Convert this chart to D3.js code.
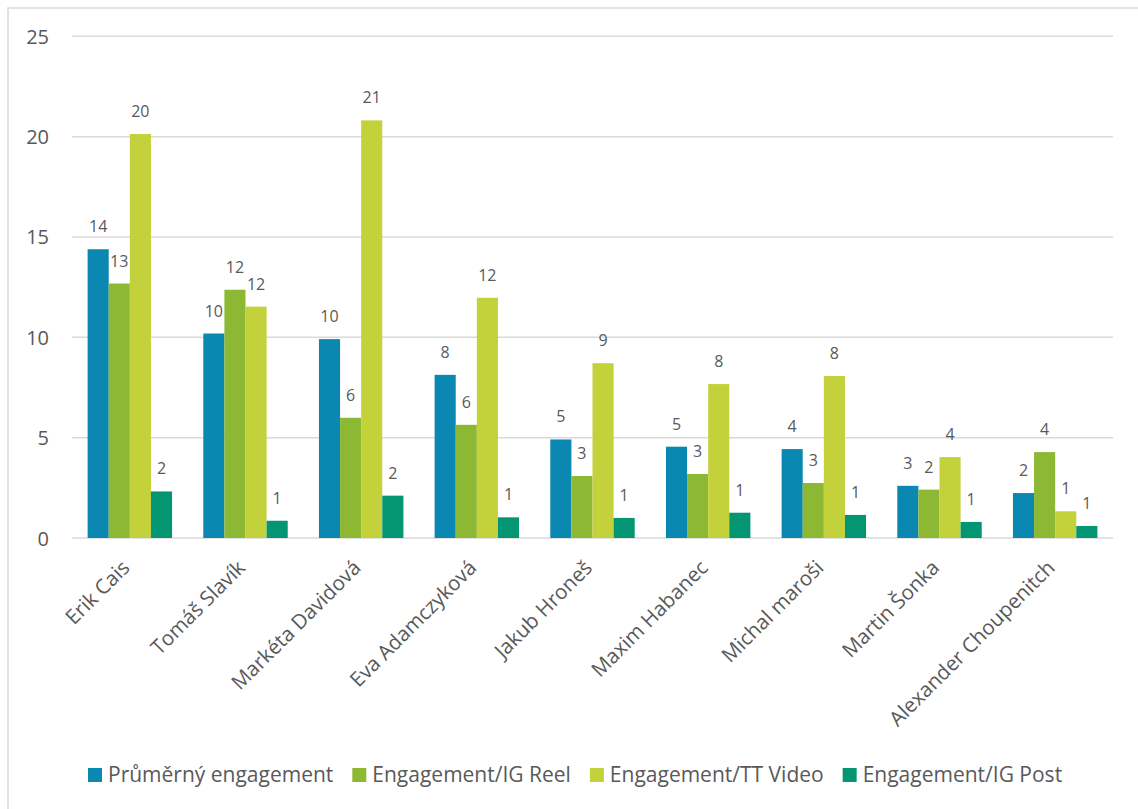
<!DOCTYPE html>
<html>
<head>
<meta charset="utf-8">
<script src="https://cdn.jsdelivr.net/npm/d3@7"></script>
<style>
  html, body { margin: 0; padding: 0; background: #fff; }
  svg { display: block; font-family: "Open Sans", sans-serif; }
</style>
</head>
<body>
<svg id="chart" width="1138" height="809"></svg>
<script>
// ---- data ----
const categories = ["Erik Cais", "Tomáš Slavík", "Markéta Davidová", "Eva Adamczyková", "Jakub Hroneš", "Maxim Habanec", "Michal maroši", "Martin Šonka", "Alexander Choupenitch"];
const seriesNames = ["Průměrný engagement", "Engagement/IG Reel", "Engagement/TT Video", "Engagement/IG Post"];
const prumernyEngagement = [14.39, 10.19, 9.91, 8.13, 4.91, 4.55, 4.43, 2.60, 2.24];
const igReel = [12.68, 12.37, 5.99, 5.64, 3.09, 3.19, 2.74, 2.41, 4.28];
const ttVideo = [20.13, 11.53, 20.81, 11.97, 8.71, 7.67, 8.07, 4.03, 1.33];
const igPost = [2.32, 0.86, 2.11, 1.03, 1.00, 1.26, 1.15, 0.80, 0.60];
const yTicks = [0, 5, 10, 15, 20, 25];

const seriesValues = [prumernyEngagement, igReel, ttVideo, igPost];
const colors = ["#0B88B2", "#8CB834", "#C3D13B", "#049673"];

const svg = d3.select("#chart");
const textColor = "#595959";

// border
svg.append("rect").attr("x", 8).attr("y", 8).attr("width", 1140).attr("height", 820)
  .attr("fill", "none").attr("stroke", "#d9d9d9").attr("stroke-width", 1.5);

const x0 = d3.scaleBand().domain(categories).range([72, 1113]).paddingInner(0.27).paddingOuter(0.135);
const x1 = d3.scaleBand().domain(seriesNames).range([0, x0.bandwidth()]);
const y = d3.scaleLinear().domain([0, 25]).range([538, 36.3]);

// gridlines
svg.append("g").selectAll("line").data(yTicks).join("line")
  .attr("x1", 72).attr("x2", 1113)
  .attr("y1", d => y(d)).attr("y2", d => y(d))
  .attr("stroke", "#d9d9d9").attr("stroke-width", 1.5);

// y axis labels
const yAxis = d3.axisLeft(y).tickValues(yTicks).tickSize(0).tickPadding(0);
const yg = svg.append("g").attr("transform", "translate(49,0)").call(yAxis);
yg.select(".domain").remove();
yg.selectAll("text").attr("font-size", 20).attr("fill", textColor)
  .attr("font-family", "Open Sans, sans-serif").attr("dy", "0.35em");

// bars
const rows = categories.map((c, i) => ({ cat: c, vals: seriesNames.map((s, j) => ({ s, j, v: seriesValues[j][i] })) }));
const groups = svg.append("g").selectAll("g").data(rows).join("g")
  .attr("transform", d => `translate(${x0(d.cat)},0)`);
groups.selectAll("rect").data(d => d.vals).join("rect")
  .attr("x", d => x1(d.s)).attr("width", x1.bandwidth())
  .attr("y", d => y(d.v)).attr("height", d => y(0) - y(d.v))
  .attr("fill", d => colors[d.j]);
groups.selectAll("text").data(d => d.vals).join("text")
  .attr("x", d => x1(d.s) + x1.bandwidth() / 2)
  .attr("y", d => y(d.v) - 17)
  .attr("text-anchor", "middle").attr("font-size", 16).attr("fill", textColor)
  .text(d => d3.format(".0f")(d.v));

// x axis labels
const xAxis = d3.axisBottom(x0).tickSize(0).tickPadding(0);
const xg = svg.append("g").attr("transform", `translate(0,${y(0)})`).call(xAxis);
xg.select(".domain").remove();
xg.selectAll(".tick text")
  .attr("font-size", 20.5).attr("fill", textColor).attr("font-family", "Open Sans, sans-serif")
  .attr("text-anchor", "end").attr("dy", null).attr("y", 0)
  .attr("transform", "translate(1,31) rotate(-45)");

// legend
const legend = svg.append("g");
let lx = 88;
seriesNames.forEach((name, j) => {
  legend.append("rect").attr("x", lx).attr("y", 768).attr("width", 14).attr("height", 14).attr("fill", colors[j]);
  const t = legend.append("text").attr("x", lx + 20).attr("y", 782)
    .attr("font-size", 21).attr("fill", textColor).text(name);
  lx += 20 + t.node().getComputedTextLength() + 19;
});
</script>
</body>
</html>
